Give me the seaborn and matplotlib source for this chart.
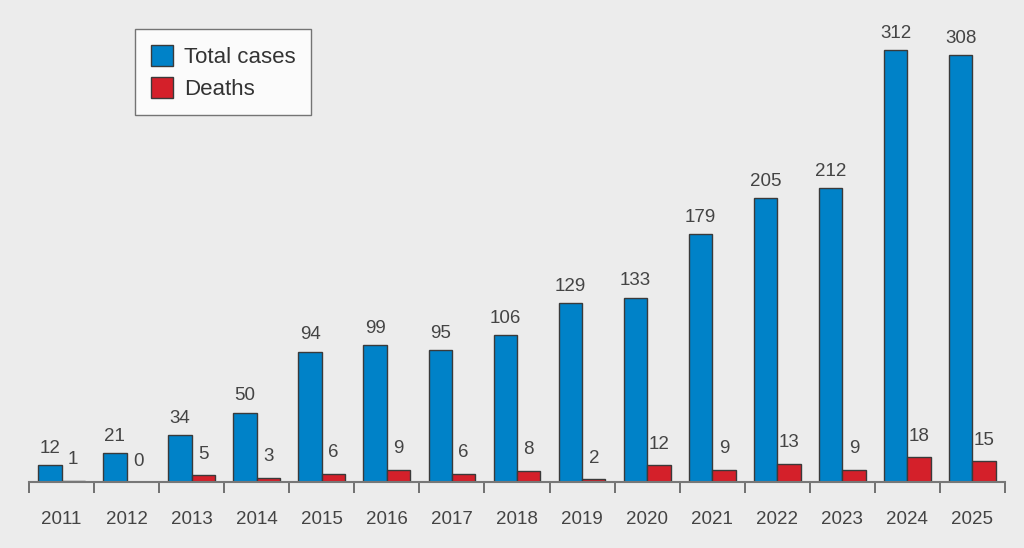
import matplotlib
matplotlib.use("Agg")
import matplotlib.pyplot as plt
import seaborn as sns
import pandas as pd
from matplotlib.ticker import FixedLocator

years = [str(y) for y in range(2011, 2026)]
total_cases = [12, 21, 34, 50, 94, 99, 95, 106, 129, 133, 179, 205, 212, 312, 308]
deaths = [1, 0, 5, 3, 6, 9, 6, 8, 2, 12, 9, 13, 9, 18, 15]

df = pd.DataFrame({
	"year": years * 2,
	"value": total_cases + deaths,
	"series": ["Total cases"] * len(years) + ["Deaths"] * len(years),
})

bg = "#ececec"
sns.set_theme(style="white")
plt.rcParams['font.family'] = ['Liberation Sans', 'DejaVu Sans']

fig = plt.figure(figsize=(10.24, 5.48), dpi=100, facecolor=bg)
ax = fig.add_axes([29 / 1024, 66 / 548, 976 / 1024, 457 / 548])
ax.set_facecolor(bg)

sns.barplot(data=df, x="year", y="value", hue="series",
	palette={"Total cases": "#0082c8", "Deaths": "#d4202a"}, saturation=1,
	width=0.72, edgecolor="#3a3a3a", linewidth=1, ax=ax)

# value labels above each bar
ax.bar_label(ax.containers[0], padding=6, fontsize=13.5, color="#444444")
ax.bar_label(ax.containers[1], padding=9, fontsize=13.5, color="#444444")

ax.set_ylim(0, 330)
ax.set_xlim(-0.5, len(years) - 0.5)
ax.set_xlabel("")
ax.set_ylabel("")
ax.set_yticks([])

for s in ["left", "right", "top"]:
	ax.spines[s].set_visible(False)
ax.spines["bottom"].set_color("#777777")
ax.spines["bottom"].set_linewidth(1.5)

# boundary ticks without labels, year labels centred below
ax.set_xticks(range(len(years)))
ax.set_xticklabels(years)
ax.tick_params(axis="x", which="major", length=0, pad=21, labelsize=13.5, labelcolor="#444444")
ax.xaxis.set_minor_locator(FixedLocator([i - 0.5 for i in range(len(years) + 1)]))
ax.tick_params(axis="x", which="minor", bottom=True, length=8, width=1.3, color="#666666")

leg = ax.legend(loc="upper left", bbox_to_anchor=(106 / 976, 1 - 4 / 457),
	fontsize=16, frameon=True, fancybox=False, handlelength=1.0, handleheight=1.1,
	handletextpad=0.5, borderpad=0.7, labelspacing=0.4, borderaxespad=0)
leg.get_frame().set_edgecolor("#555555")
leg.get_frame().set_linewidth(1)
leg.get_frame().set_facecolor("white")
for t in leg.get_texts():
	t.set_color("#333333")

fig.savefig("out.png", dpi=100, facecolor=bg)
